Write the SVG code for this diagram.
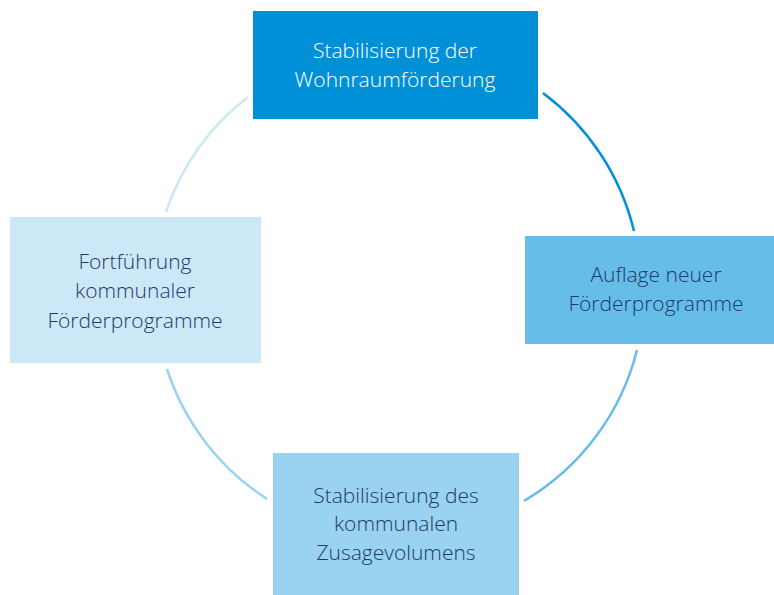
<svg xmlns="http://www.w3.org/2000/svg" width="774" height="595" viewBox="0 0 774 595">
<style>
.lbl{font-family:"Open Sans","Noto Sans","Liberation Sans",sans-serif;font-size:21px;font-weight:300;text-anchor:middle}
.dark{fill:#1c3a6e}
.light{fill:#ffffff}
.arc{fill:none;stroke-width:2.5}
</style>
<rect width="774" height="595" fill="#ffffff"/>
<g id="connectors">
<path class="arc" stroke="#0090d8" d="M543,93 A244,244 0 0 1 634,231"/>
<path class="arc" stroke="#66bde8" d="M637,350 A244,244 0 0 1 524,501"/>
<path class="arc" stroke="#99d3ef" d="M267,499 A244,244 0 0 1 167,369"/>
<path class="arc" stroke="#cce8f6" d="M166,212 A244,244 0 0 1 248,97"/>
</g>
<g id="node-top">
<rect x="253" y="11" width="285" height="108" fill="#0090d8"/>
<text class="lbl light" x="395" y="58">Stabilisierung der</text>
<text class="lbl light" x="395" y="87">Wohnraumförderung</text>
</g>
<g id="node-right">
<rect x="525" y="236" width="249" height="108" fill="#66bde8"/>
<text class="lbl dark" x="656" y="282">Auflage neuer</text>
<text class="lbl dark" x="656" y="311">Förderprogramme</text>
</g>
<g id="node-bottom">
<rect x="273" y="453" width="246" height="142" fill="#99d3ef"/>
<text class="lbl dark" x="396" y="503">Stabilisierung des</text>
<text class="lbl dark" x="396" y="531">kommunalen</text>
<text class="lbl dark" x="396" y="560">Zusagevolumens</text>
</g>
<g id="node-left">
<rect x="10" y="217" width="251" height="146" fill="#cce8f6"/>
<text class="lbl dark" x="135" y="269">Fortführung</text>
<text class="lbl dark" x="135" y="298">kommunaler</text>
<text class="lbl dark" x="135" y="328">Förderprogramme</text>
</g>
</svg>
